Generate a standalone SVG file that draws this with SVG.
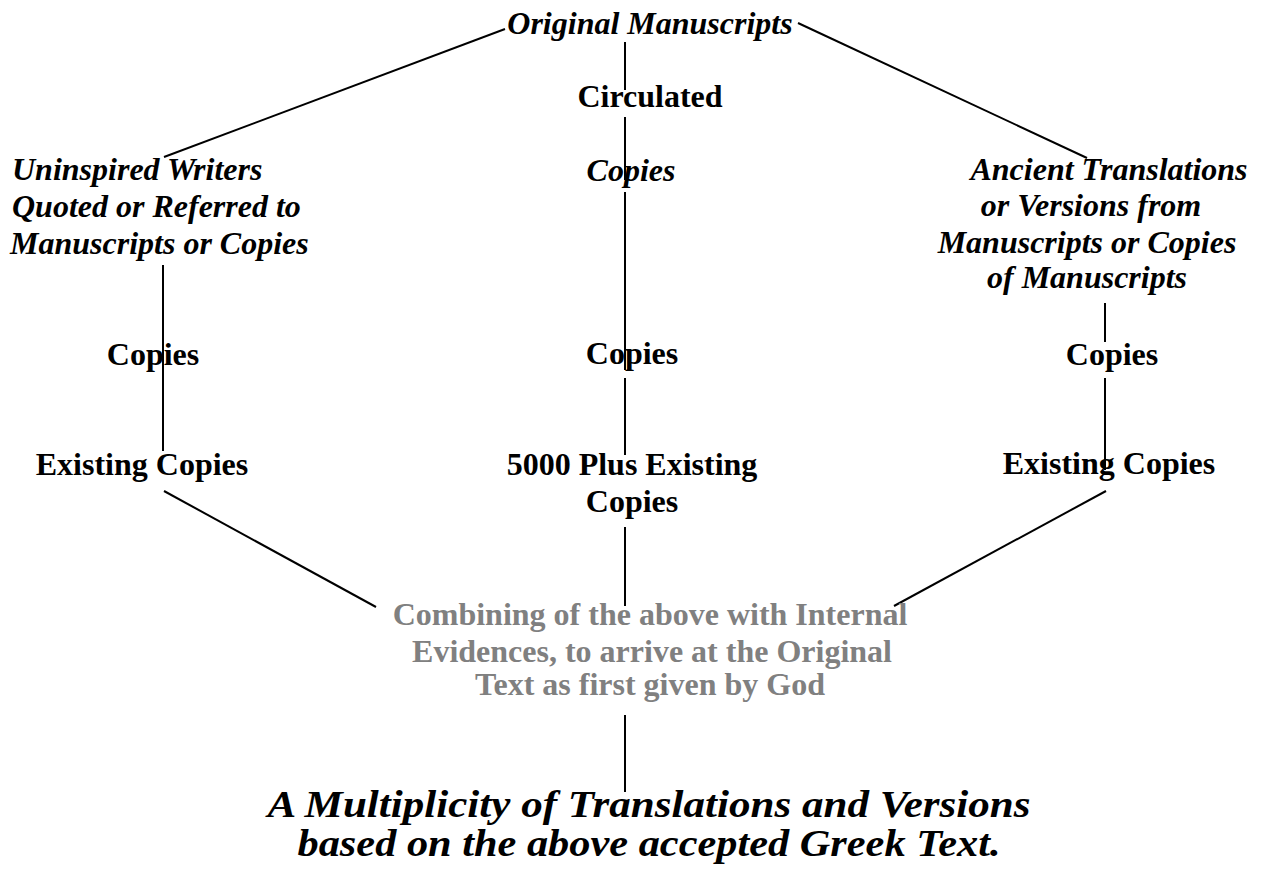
<svg xmlns="http://www.w3.org/2000/svg" width="1262" height="876" viewBox="0 0 1262 876">
<style>
text { font-family: "Liberation Serif", "Times New Roman", serif; font-weight: bold; font-size: 32px; fill: #000; }
.it { font-style: italic; }
.mid { text-anchor: middle; }
.gray { fill: #808080; }
.big { font-size: 38px; }
.conn line { stroke: #000; stroke-width: 2; }
</style>
<rect width="1262" height="876" fill="#fff"/>
<g class="conn" id="connectors">
  <line x1="505" y1="29" x2="164" y2="157"/>
  <line x1="798" y1="23" x2="1087" y2="158"/>
  <line x1="625" y1="42" x2="625" y2="90"/>
  <line x1="625" y1="117" x2="625" y2="180"/>
  <line x1="625" y1="192" x2="625" y2="370"/>
  <line x1="625" y1="378" x2="625" y2="455"/>
  <line x1="625" y1="527" x2="625" y2="606"/>
  <line x1="625" y1="715" x2="625" y2="792"/>
  <line x1="163" y1="265" x2="163" y2="451"/>
  <line x1="1105" y1="303" x2="1105" y2="342"/>
  <line x1="1105" y1="378" x2="1105" y2="470"/>
  <line x1="164" y1="491" x2="376" y2="607"/>
  <line x1="1106" y1="491" x2="894" y2="606"/>
</g>
<g id="original"><text class="it mid" x="650" y="34">Original Manuscripts</text></g>
<g id="circulated"><text class="mid" x="650" y="107">Circulated</text></g>
<g id="copies-it"><text class="it mid" x="631" y="181">Copies</text></g>
<g id="uninspired">
  <text class="it" x="12" y="180">Uninspired Writers</text>
  <text class="it" x="12" y="217">Quoted or Referred to</text>
  <text class="it" x="10" y="254">Manuscripts or Copies</text>
</g>
<g id="ancient">
  <text class="it mid" x="1109" y="180">Ancient Translations</text>
  <text class="it mid" x="1091" y="216">or Versions from</text>
  <text class="it mid" x="1087" y="253">Manuscripts or Copies</text>
  <text class="it mid" x="1087" y="288">of Manuscripts</text>
</g>
<g id="copies-left"><text class="mid" x="153" y="365">Copies</text></g>
<g id="copies-center"><text class="mid" x="632" y="364">Copies</text></g>
<g id="copies-right"><text class="mid" x="1112" y="365">Copies</text></g>
<g id="existing-left"><text class="mid" x="142" y="475">Existing Copies</text></g>
<g id="existing-center">
  <text class="mid" x="632" y="475">5000 Plus Existing</text>
  <text class="mid" x="632" y="512">Copies</text>
</g>
<g id="existing-right"><text class="mid" x="1109" y="474">Existing Copies</text></g>
<g id="combining">
  <text class="mid gray" x="650" y="625">Combining of the above with Internal</text>
  <text class="mid gray" x="652" y="662">Evidences, to arrive at the Original</text>
  <text class="mid gray" x="650" y="695">Text as first given by God</text>
</g>
<g id="multiplicity">
  <text class="it mid big" x="649" y="817" textLength="763" lengthAdjust="spacingAndGlyphs">A Multiplicity of Translations and Versions</text>
  <text class="it mid big" x="649" y="856" textLength="703" lengthAdjust="spacingAndGlyphs">based on the above accepted Greek Text.</text>
</g>
</svg>
